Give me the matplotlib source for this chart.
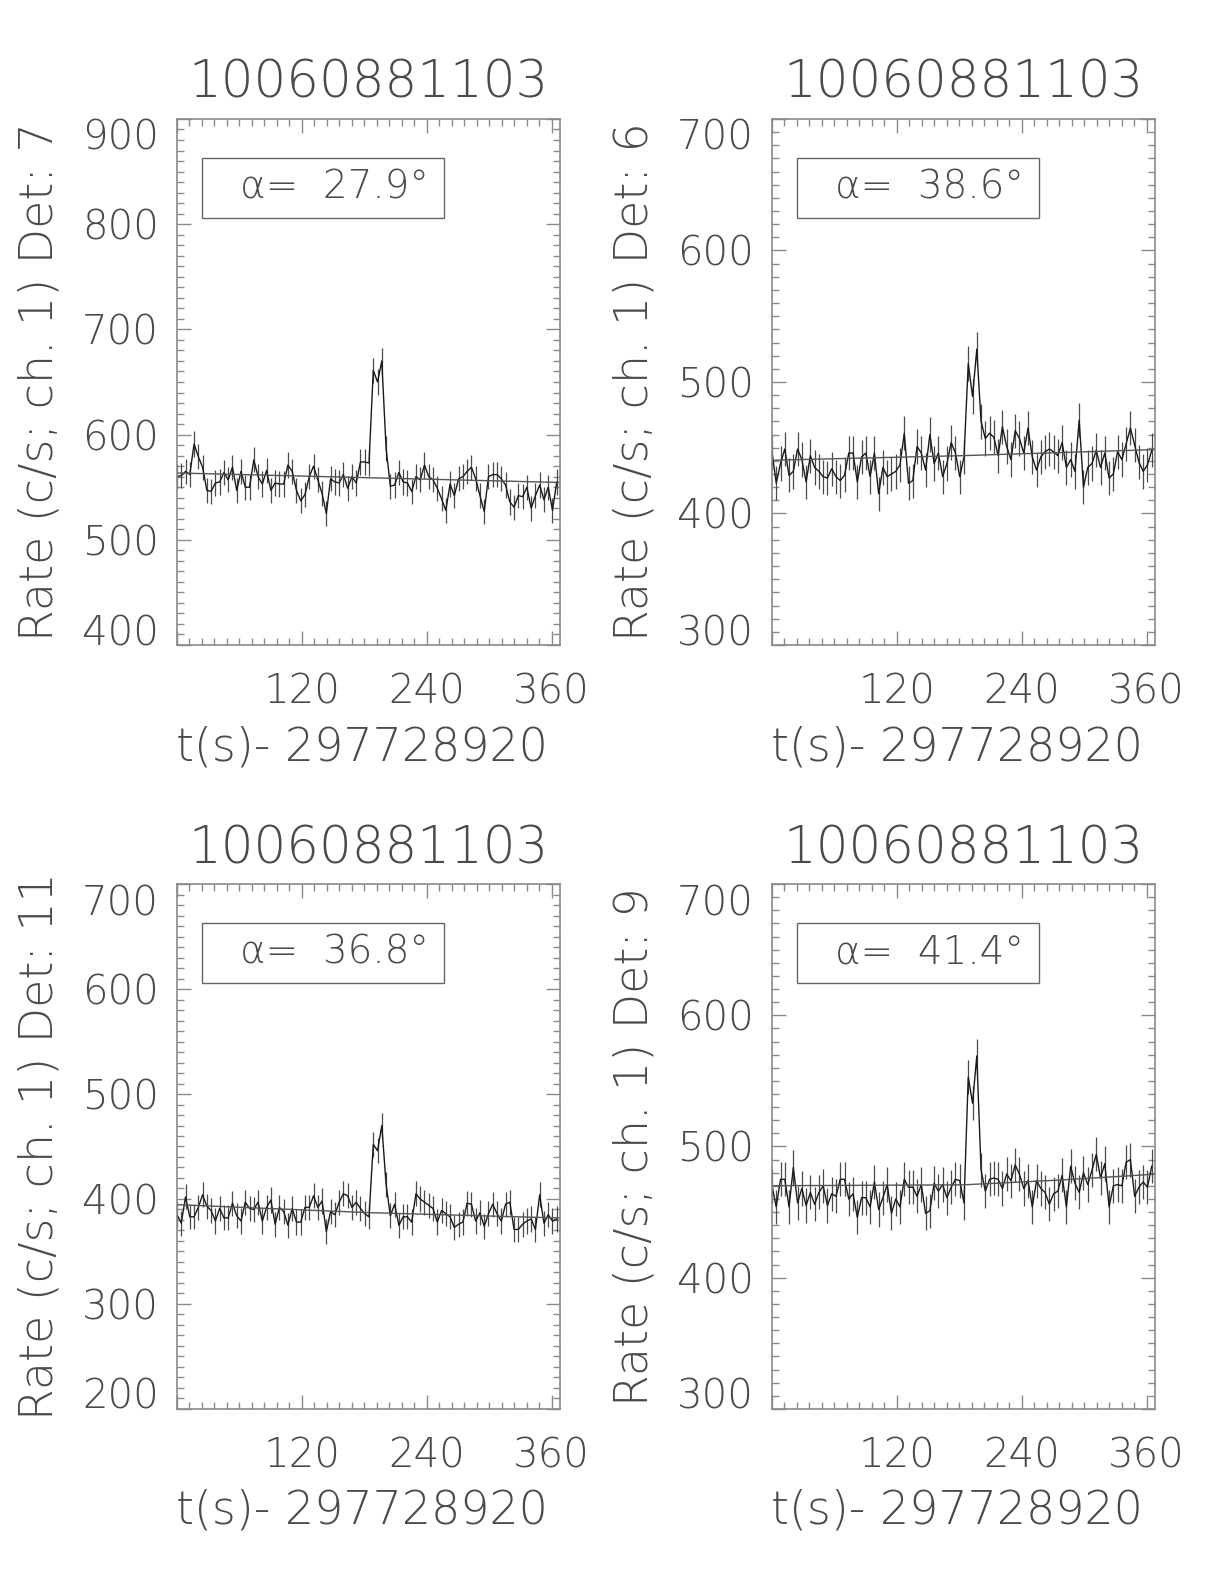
import numpy as np
import matplotlib
matplotlib.use("Agg")
import matplotlib.pyplot as plt
import matplotlib.font_manager as fm
from matplotlib.patches import Rectangle
from matplotlib.ticker import MultipleLocator, FixedLocator

# ---- data (c/s, channel 1) ----
obs_id = "10060881103"
t_offset = "297728920"
bin_width = 4.1  # s

detectors = [7, 6, 11, 9]
alphas = [27.9, 38.6, 36.8, 41.4]
yranges = [(400, 900), (300, 700), (200, 700), (300, 700)]
rate_err = [12, 13, 12, 13]

rate_det7 = [560, 561, 565, 562, 591, 579, 569, 547, 546, 554, 555, 564, 557, 569, 547,
             565, 550, 550, 576, 560, 553, 566, 547, 554, 553, 553, 571, 565, 547, 537,
             543, 560, 570, 557, 544, 525, 558, 555, 554, 562, 549, 560, 554, 574, 574,
             573, 661, 650, 670, 587, 551, 552, 564, 555, 554, 546, 560, 557, 571, 560,
             557, 549, 539, 528, 553, 542, 558, 560, 565, 569, 558, 542, 527, 560, 562,
             562, 558, 552, 536, 531, 542, 541, 550, 530, 542, 552, 538, 550, 528, 555]
rate_det6 = [447, 423, 438, 449, 429, 432, 449, 441, 424, 444, 435, 432, 428, 427, 434,
             428, 425, 429, 446, 446, 424, 443, 446, 428, 446, 415, 435, 428, 430, 432,
             437, 461, 423, 425, 451, 446, 433, 460, 438, 446, 428, 438, 454, 446, 428,
             443, 514, 489, 525, 470, 457, 461, 458, 444, 466, 451, 441, 463, 457, 446,
             465, 443, 433, 443, 447, 449, 447, 444, 454, 435, 441, 432, 471, 420, 435,
             438, 448, 435, 446, 427, 430, 447, 441, 453, 465, 452, 439, 432, 437, 448]
rate_det11 = [385, 377, 402, 383, 383, 392, 404, 393, 389, 379, 391, 382, 382, 396, 384,
              379, 397, 391, 390, 397, 379, 392, 399, 376, 392, 388, 375, 391, 378, 378,
              392, 392, 403, 392, 398, 369, 388, 385, 397, 405, 403, 392, 397, 391, 386,
              383, 452, 446, 470, 414, 384, 395, 375, 383, 383, 378, 405, 400, 397, 394,
              391, 378, 389, 386, 383, 373, 376, 378, 396, 395, 379, 387, 374, 386, 395,
              386, 379, 395, 397, 371, 371, 376, 379, 381, 371, 404, 377, 385, 379, 381]
rate_det9 = [470, 454, 475, 475, 454, 484, 457, 468, 455, 465, 456, 465, 470, 455, 464,
             462, 475, 475, 460, 464, 446, 461, 461, 454, 473, 452, 461, 471, 449, 460,
             454, 475, 469, 469, 462, 471, 449, 451, 472, 466, 471, 461, 469, 475, 474,
             457, 553, 533, 569, 482, 466, 475, 476, 475, 468, 479, 474, 486, 479, 468,
             474, 454, 474, 468, 465, 456, 464, 466, 478, 454, 485, 472, 465, 480, 471,
             482, 494, 476, 487, 454, 470, 471, 470, 488, 490, 462, 469, 473, 469, 485]
rates = [rate_det7, rate_det6, rate_det11, rate_det9]

# background fit, sampled at a few times
bkg_t = [[0, 184, 368], [0, 184, 368], [0, 184, 368], [0, 184, 276, 368]]
bkg_rate = [[563.5, 559, 554.5], [440.5, 444, 448.6], [394.6, 387, 381.9],
            [470.1, 470.8, 474.4, 478.9]]


def pick_font():
    prefs = [("DejaVu Sans", 250), ("Lato", 320), ("Open Sans", 320),
             ("Roboto", 320), ("Inter", 320), ("Noto Sans", 320)]
    for fam, wmax in prefs:
        for f in fm.fontManager.ttflist:
            w = f.weight if isinstance(f.weight, int) else fm.weight_dict.get(f.weight, 400)
            if f.name == fam and w <= wmax and f.style == "normal":
                return fam, w
    return "DejaVu Sans", 400


font_family, font_weight = pick_font()
plt.rcParams["font.family"] = [font_family, "DejaVu Sans"]
plt.rcParams["font.weight"] = font_weight
txt_col = "#4a4a4a"
ax_col = "#8a8a8a"

fig = plt.figure(figsize=(12.24, 15.84), dpi=100)
rects = [[0.1446, 0.5928, 0.3129, 0.3321], [0.6307, 0.5928, 0.3129, 0.3321],
         [0.1446, 0.1105, 0.3129, 0.3314], [0.6307, 0.1105, 0.3129, 0.3314]]

for i in range(4):
    ax = fig.add_axes(rects[i])
    rate = np.array(rates[i])
    t = np.arange(len(rate)) * bin_width

    ax.errorbar(t, rate, yerr=rate_err[i], fmt="none", ecolor="#4a4a4a",
                elinewidth=0.9, capsize=0)
    ax.plot(t, rate, color="#1a1a1a", lw=1.0)
    ax.plot(bkg_t[i], bkg_rate[i], color="#555555", lw=1.0)

    ax.set_xlim(0, 368)
    ax.set_ylim(*yranges[i])

    ax.xaxis.set_major_locator(FixedLocator([0, 120, 240, 360]))
    ax.set_xticklabels(["", "120", "240", "360"])
    ax.xaxis.set_minor_locator(MultipleLocator(12))
    y0, y1 = yranges[i]
    ax.yaxis.set_major_locator(FixedLocator(list(range(y0, y1 + 1, 100))))
    ax.yaxis.set_minor_locator(MultipleLocator(10))

    ax.tick_params(which="both", direction="in", top=True, right=True,
                   color=ax_col, width=1.0)
    ax.tick_params(which="major", length=10)
    ax.tick_params(which="minor", length=5)
    ax.tick_params(axis="x", which="major", labelsize=29, labelcolor=txt_col, pad=20)
    ax.tick_params(axis="y", which="major", labelsize=29, labelcolor=txt_col, pad=13)
    for s in ax.spines.values():
        s.set_color(ax_col)
        s.set_linewidth(1.2)

    # IDL pulls the end labels inside the axis range
    yticks = ax.yaxis.get_major_ticks()
    yticks[0].label1.set_va("baseline")
    yticks[-1].label1.set_va("top")

    ax.text(0.5, 1.040, obs_id, transform=ax.transAxes, ha="center",
            va="baseline", fontsize=37, color=txt_col)
    ax.text(0.482, -0.219, "t(s)- " + t_offset, transform=ax.transAxes,
            ha="center", va="baseline", fontsize=33, color=txt_col)
    ax.text(-0.36, 0.5, "Rate (c/s; ch. 1) Det: %d" % detectors[i],
            transform=ax.transAxes, rotation=90, ha="center", va="center",
            fontsize=33, color=txt_col)

    ax.add_patch(Rectangle((0.065, 0.812), 0.632, 0.114, transform=ax.transAxes,
                           fill=False, edgecolor="#666666", lw=1.0))
    ax.text(0.1645, 0.848, "α=  %.1f°" % alphas[i], transform=ax.transAxes,
            ha="left", va="baseline", fontsize=28, color=txt_col)

fig.savefig("out.png", dpi=100)
